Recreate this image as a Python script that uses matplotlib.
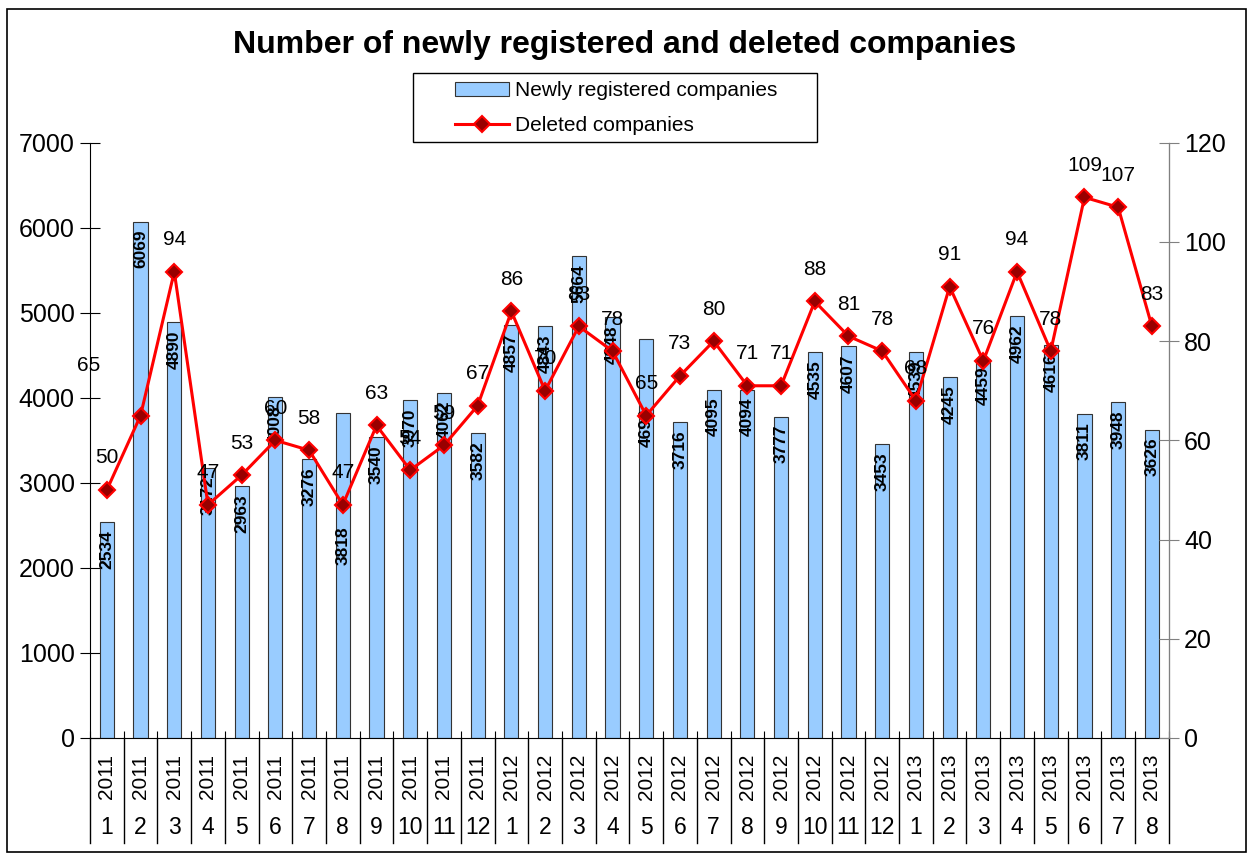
import numpy as np
import matplotlib.pyplot as plt
from matplotlib.patches import Rectangle

plt.rcParams['font.family'] = ['Liberation Sans', 'DejaVu Sans']

years = ['2011'] * 12 + ['2012'] * 12 + ['2013'] * 8
months = [str(m) for m in range(1, 13)] * 2 + [str(m) for m in range(1, 9)]
registered = [2534, 6069, 4890, 3172, 2963, 4008, 3276, 3818, 3540, 3970, 4062, 3582,
              4857, 4843, 5664, 4948, 4696, 3716, 4095, 4094, 3777, 4535, 4607, 3453,
              4539, 4245, 4459, 4962, 4616, 3811, 3948, 3626]
deleted = [50, 65, 94, 47, 53, 60, 58, 47, 63, 54, 59, 67,
           86, 70, 83, 78, 65, 73, 80, 71, 71, 88, 81, 78,
           68, 91, 76, 94, 78, 109, 107, 83]

# a few labels sit off their usual spot in the original
bar_label_shift = {7: 105, 16: 62}
line_label_shift = {1: (-52, 18)}

fig = plt.figure(figsize=(12.5, 8.55), dpi=100)
ax = fig.add_axes([0.072, 0.137, 0.863, 0.696])
ax2 = ax.twinx()

x = np.arange(len(registered))
ax.bar(x, registered, width=0.42, color='#99CCFF', edgecolor='#333333', linewidth=0.8,
       label='Newly registered companies', zorder=2)
ax2.plot(x, deleted, color='red', lw=2.2, marker='D', markersize=8,
         markerfacecolor='#990000', markeredgecolor='red', markeredgewidth=1.5,
         label='Deleted companies', zorder=3)

for i, v in enumerate(registered):
    off = bar_label_shift.get(i, 0)
    ax.annotate(str(v), (i, v), xytext=(0, -8 - off), textcoords='offset pixels',
                rotation=90, ha='center', va='top', fontsize=12.5, fontweight='bold')
for i, v in enumerate(deleted):
    dx, dy = line_label_shift.get(i, (0, 0))
    ax2.annotate(str(v), (i, v), xytext=(dx, 32 + dy), textcoords='offset pixels',
                 ha='center', va='center', fontsize=15)

ax.set_xlim(-0.5, len(registered) - 0.5)
ax.set_ylim(0, 7000)
ax.set_yticks(range(0, 7001, 1000))
ax2.set_ylim(0, 120)
ax2.set_yticks(range(0, 121, 20))

ax.tick_params(axis='y', direction='inout', length=14, labelsize=18, pad=4)
ax2.tick_params(axis='y', direction='inout', length=14, labelsize=18, pad=4, color='#808080')
ax.set_xticks(np.arange(-0.5, len(registered), 1.0))
ax.set_xticklabels([])
ax.tick_params(axis='x', direction='in', length=5)

for a in (ax, ax2):
    a.spines['top'].set_visible(False)
ax2.spines['right'].set_color('#808080')
ax2.spines['left'].set_visible(False)
ax2.spines['bottom'].set_visible(False)

# two-row category axis
tr = ax.get_xaxis_transform()
for b in np.arange(-0.5, len(registered), 1.0):
    ax.plot([b, b], [0, -0.176], transform=tr, color='black', lw=1, clip_on=False)
for i in range(len(registered)):
    ax.text(i, -0.065, years[i], transform=tr, rotation=90, ha='center', va='center', fontsize=15)
    ax.text(i, -0.151, months[i], transform=tr, ha='center', va='center', fontsize=16.5)

fig.text(0.5, 0.947, 'Number of newly registered and deleted companies',
         ha='center', va='center', fontsize=23, fontweight='bold')

h1, l1 = ax.get_legend_handles_labels()
h2, l2 = ax2.get_legend_handles_labels()
fig.legend(h1 + h2, l1 + l2, loc='center', bbox_to_anchor=(0.4928, 0.8737),
           fontsize=15, frameon=False, handlelength=2.6, handletextpad=0.3,
           labelspacing=0.75, borderpad=0, borderaxespad=0)
# legend frame drawn separately, it is much wider than its content
fig.patches.append(Rectangle((413 / 1250, 1 - 142 / 855), 404 / 1250, 69 / 855,
                             transform=fig.transFigure, fill=False, edgecolor='black', lw=1))

fig.patches.append(Rectangle((0.0056, 0.004), 0.9914, 0.9855, transform=fig.transFigure,
                             fill=False, edgecolor='black', lw=1.2))

fig.savefig('out.png', dpi=100)
